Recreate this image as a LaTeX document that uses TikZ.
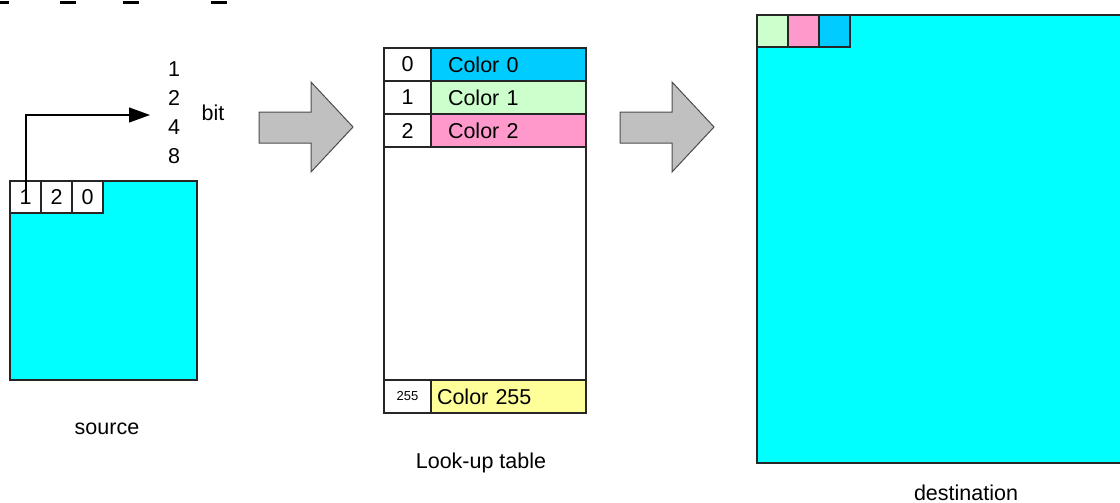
\documentclass[tikz,border=0pt]{standalone}
\usepackage{fontspec}
\setmainfont{Liberation Sans}
\usepackage{tikz}
\usetikzlibrary{arrows.meta, positioning}
\usepackage{xcolor}
\definecolor{areacyan}{HTML}{00FFFF}
\definecolor{colzero}{HTML}{00CCFF}
\definecolor{colone}{HTML}{CCFFCC}
\definecolor{coltwo}{HTML}{FF99CC}
\definecolor{colmax}{HTML}{FFFF99}
\definecolor{bigarrowgray}{HTML}{C0C0C0}
\tikzstyle{area} = [rectangle, draw=black!85, line width=1.2pt, fill=areacyan, outer sep=0pt, inner sep=0pt]
\tikzstyle{pixel} = [rectangle, draw=black!85, line width=1.2pt, fill=white, minimum width=31pt, minimum height=32pt, outer sep=0pt, inner sep=0pt]
\tikzstyle{idxcell} = [rectangle, draw=black!85, line width=1.2pt, fill=white, minimum width=47pt, minimum height=33pt, outer sep=0pt, inner sep=0pt]
\tikzstyle{colcell} = [rectangle, draw=black!85, line width=1.2pt, minimum height=33pt, text width=121pt, inner xsep=17pt, inner ysep=0pt, align=left, outer sep=0pt]
\tikzstyle{bigarrow} = [draw=black!70, line width=1pt, fill=bigarrowgray]
\tikzstyle{arrow} = [line width=1.2pt, -{Triangle[length=21pt, width=15pt]}]

\begin{document}
\begin{tikzpicture}[x=1pt, y=-1pt, every node/.style={font=\fontsize{21.5}{29}\selectfont}]
  \useasboundingbox (0,0) rectangle (1120,503);

  % cut-off marks along the top
  \draw[line width=2.5pt] (0,2.5) -- (9,2.5);
  \draw[line width=2.5pt] (60,2.5) -- (76,2.5);
  \draw[line width=2.5pt] (123,2.5) -- (139,2.5);
  \draw[line width=2.5pt] (211,2.5) -- (227,2.5);

  % source
  \node[area, anchor=north west, minimum width=187pt, minimum height=199pt] (source) at (10,181) {};
  \node[pixel, anchor=north west] (s1) at (source.north west) {1};
  \node[pixel, right=0pt of s1] (s2) {2};
  \node[pixel, right=0pt of s2] (s3) {0};
  \node (srclabel) at (107,429) {source};

  \node[align=center] (bits) at (174,113) {1\\2\\4\\8};
  \node (bitlabel) at (213,113) {bit};
  \coordinate (pick) at (26,202);
  \coordinate (tip) at (150,115);
  \draw[arrow] (pick) |- (tip);

  \draw[bigarrow] (259,112) -- (311,112) -- (311,82) -- (353,127) -- (311,172) -- (311,143) -- (259,143) -- cycle;

  % look-up table
  \node[rectangle, draw=black!85, line width=1.2pt, fill=white, anchor=north west, minimum width=202pt, minimum height=365pt, outer sep=0pt] (lut) at (384,48) {};
  \node[idxcell, anchor=north west] (i0) at (lut.north west) {0};
  \node[idxcell, below=0pt of i0] (i1) {1};
  \node[idxcell, below=0pt of i1] (i2) {2};
  \node[colcell, fill=colzero, right=0pt of i0] (c0) {Color 0};
  \node[colcell, fill=colone, right=0pt of i1] (c1) {Color 1};
  \node[colcell, fill=coltwo, right=0pt of i2] (c2) {Color 2};
  \node[idxcell, anchor=south west, font=\fontsize{13}{15}\selectfont] (i255) at (lut.south west) {255};
  \node[colcell, fill=colmax, inner xsep=6pt, text width=143pt, right=0pt of i255] (c255) {Color 255};
  \node (lutlabel) at (481,463) {Look-up table};

  \draw[bigarrow] (620,112) -- (672,112) -- (672,82) -- (714,127) -- (672,172) -- (672,143) -- (620,143) -- cycle;

  % destination
  \node[area, anchor=north west, minimum width=380pt, minimum height=448pt] (dest) at (757,15) {};
  \node[pixel, fill=colone, anchor=north west] (d1) at (dest.north west) {};
  \node[pixel, fill=coltwo, right=0pt of d1] (d2) {};
  \node[pixel, fill=colzero, right=0pt of d2] (d3) {};
  \node (dstlabel) at (966,493) {destination};
\end{tikzpicture}
\end{document}
